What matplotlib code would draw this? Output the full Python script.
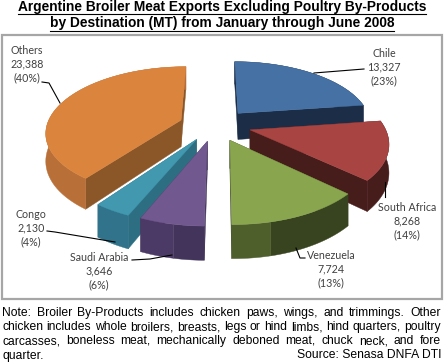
import numpy as np
import matplotlib
matplotlib.use("Agg")
import matplotlib.pyplot as plt
from matplotlib.patches import Rectangle

# ---- data ----
categories = ["Chile", "South Africa", "Venezuela", "Saudi Arabia", "Congo", "Others"]
values = [13327, 8268, 7724, 3646, 2130, 23388]
percents = [23, 14, 13, 6, 4, 40]
top_colors = ["#4571A5", "#A84442", "#89A54E", "#71588F", "#4198AF", "#DB843D"]
wall_colors = ["#1C2E47", "#471D1C", "#4F5F2C", "#4C3A66", "#30738A", "#B96F38"]
wall2_colors = ["#1C2E47", "#471D1C", "#38431F", "#42345A", "#30738A", "#B96F38"]
face_colors = ["#1C2E47", "#471D1C", "#38431F", "#42345A", "#2D6E82", "#8B5728"]
title_lines = ["Argentine Broiler Meat Exports Excluding Poultry By-Products",
               "by Destination (MT) from January through June 2008"]
note_lines = ["Note: Broiler By-Products includes chicken paws, wings, and trimmings.  Other",
              "chicken includes whole broilers, breasts, legs or hind limbs, hind quarters, poultry",
              "carcasses, boneless meat, mechanically deboned meat, chuck neck, and fore"]
note_last = "quarter."
source = "Source: Senasa DNFA DTI"

# ---- projection of the exploded, tilted pie ----
CX, CY, RX, RY, P, DEPTH, EXPLODE_X, EXPLODE_Y = 215, 125, 134, 64, 0.17, 27, 0.27, 0.25
DRAW_ORDER = {"Others": 1, "Chile": 2, "South Africa": 3, "Congo": 4, "Saudi Arabia": 5, "Venezuela": 6}
SPLIT_DEG = {"Venezuela": 167, "Saudi Arabia": 191}


def project(x, y, low=False):
    d = 1 - P * y
    return CX + RX * x / d, CY + RY * y / d + (DEPTH / d if low else 0)


fig = plt.figure(figsize=(4.44, 3.63), dpi=100)
ax = fig.add_axes([0, 0, 1, 1])
ax.set_xlim(0, 444)
ax.set_ylim(363, 0)
ax.axis("off")

ax.add_patch(Rectangle((2, 34.5), 440, 264.5, fc="white", ec="#A6A6A6", lw=1.6, zorder=0))

fracs = np.array(values) / sum(values)
edges = np.concatenate([[0], np.cumsum(fracs)]) * 2 * np.pi


def wall(a, b, ex, ey, color, z):
    th = np.linspace(a, b, 60)
    xs = ex + np.sin(th)
    ys = ey - np.cos(th)
    top = [project(p, q) for p, q in zip(xs, ys)]
    low = [project(p, q, True) for p, q in zip(xs, ys)]
    ax.fill(*zip(*(top + low[::-1])), fc=color, ec=color, lw=0.3, zorder=z)


for i, cat in enumerate(categories):
    a0, a1 = edges[i], edges[i + 1]
    mid = (a0 + a1) / 2
    ex, ey = EXPLODE_X * np.sin(mid), -EXPLODE_Y * np.cos(mid)
    z = DRAW_ORDER[cat] * 10
    for a in (a0, a1):
        ox, oy = ex + np.sin(a), ey - np.cos(a)
        quad = [project(ex, ey), project(ox, oy), project(ox, oy, True), project(ex, ey, True)]
        ax.fill(*zip(*quad), fc=face_colors[i], ec=face_colors[i], lw=0.3, zorder=z)
    if cat in SPLIT_DEG:
        split = np.radians(SPLIT_DEG[cat])
        wall(a0, split, ex, ey, wall2_colors[i], z + 1)
        wall(split, a1, ex, ey, wall_colors[i], z + 1)
    else:
        wall(a0, a1, ex, ey, wall_colors[i], z + 1)
    th = np.linspace(a0, a1, 80)
    xs = np.concatenate([[ex], ex + np.sin(th)])
    ys = np.concatenate([[ey], ey - np.cos(th)])
    pts = [project(p, q) for p, q in zip(xs, ys)]
    ax.fill(*zip(*pts), fc=top_colors[i], ec=top_colors[i], lw=0.3, zorder=z + 2)

# ---- data labels and leader lines ----
label_pos = {"Chile": (384, 67), "South Africa": (407, 221), "Venezuela": (331, 269),
             "Saudi Arabia": (99, 271), "Congo": (31, 228), "Others": (27, 64)}
leaders = {"Chile": [(314, 73), (364, 69)],
           "South Africa": [(385, 182), (385, 197)],
           "Venezuela": [(296, 248), (300, 258), (305, 258)],
           "Saudi Arabia": [(132, 260), (150, 259), (172, 255)],
           "Congo": [(47, 231), (55, 232), (115, 242)],
           "Others": [(42, 82), (49, 83), (60, 103)]}
for i, cat in enumerate(categories):
    x, y = label_pos[cat]
    ax.text(x, y, f"{cat}\n{values[i]:,}\n({percents[i]}%)", ha="center", va="center",
            family="Lato", fontsize=7.7, color="#404040", linespacing=1.27, zorder=100)
    ax.plot(*zip(*leaders[cat]), color="black", lw=0.8, zorder=99)

# ---- title and note ----
rend = fig.canvas.get_renderer()
for line, y, uy in zip(title_lines, (7.5, 23.5), (14, 30.5)):
    t = ax.text(222, y, line, ha="center", va="center", family="Liberation Sans",
                fontweight="bold", fontsize=9.9, color="black")
    bb = t.get_window_extent(rend)
    ax.plot([bb.x0, bb.x1], [uy, uy], color="black", lw=0.8)

NOTE = dict(family="Liberation Sans", fontsize=8.7, color="black", va="center")


def width(s):
    t = ax.text(0, 0, s, **NOTE)
    w = t.get_window_extent(rend).width
    t.remove()
    return w


for line, y in zip(note_lines, (313, 327, 341)):
    words = line.split()
    ws = [width(w) for w in words]
    gap = (441 - 2 - sum(ws)) / (len(words) - 1)
    x = 2
    for w, wd in zip(words, ws):
        ax.text(x, y, w, ha="left", **NOTE)
        x += wd + gap
ax.text(2, 355.5, note_last, ha="left", **NOTE)
ax.text(441, 355.5, source, ha="right", **NOTE)

fig.savefig("out.png", dpi=100)
